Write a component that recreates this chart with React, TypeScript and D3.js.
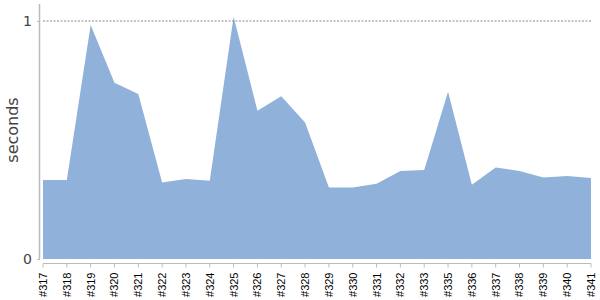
import React from "react";
import * as d3 from "d3";

const builds = ["#317","#318","#319","#320","#321","#322","#323","#324","#325","#326","#327","#328","#329","#330","#331","#332","#333","#335","#336","#337","#338","#339","#340","#341"];
const seconds = [0.332,0.332,0.983,0.741,0.693,0.321,0.336,0.329,1.018,0.623,0.684,0.574,0.300,0.300,0.316,0.370,0.374,0.703,0.312,0.384,0.370,0.342,0.349,0.340];
const yTicks = [0, 1];

export default function App() {
  const W = 600, H = 300;
  const x = d3.scalePoint<string>().domain(builds).range([43, 591]);
  const y = d3.scaleLinear().domain([0, 1]).range([259, 21]);
  const area = d3.area<number>()
    .x((_, i) => x(builds[i]) as number)
    .y0(y(0))
    .y1((d) => y(d));
  return (
    <svg width={W} height={H} style={{ position: "absolute", left: 0, top: 0 }}>
      <path d={area(seconds) || ""} fill="#8fb1da" />
      <line x1={43} x2={591} y1={y(1)} y2={y(1)} stroke="#888" strokeDasharray="2,1.5" strokeWidth={1} />
      <line x1={39.5} x2={39.5} y1={4} y2={259} stroke="#bbb" strokeWidth={1.5} />
      {yTicks.map((t) => (
        <g key={t}>
          <line x1={37} x2={40} y1={y(t) + 0.5} y2={y(t) + 0.5} stroke="#bbb" />
          <text x={32} y={y(t)} dy="0.36em" textAnchor="end" fontFamily="DejaVu Sans" fontSize={14} fill="#444">{t}</text>
        </g>
      ))}
      <line x1={43} x2={591} y1={263.5} y2={263.5} stroke="#bbb" />
      {builds.map((b) => (
        <g key={b} transform={`translate(${x(b)},263.5)`}>
          <line y1={0} y2={4} stroke="#bbb" />
          <text transform="rotate(-90)" x={-9} y={0} dy="0.36em" textAnchor="end" fontFamily="Liberation Sans" fontSize={11} fill="#000">{b}</text>
        </g>
      ))}
      <text transform={`translate(18,130) rotate(-90)`} textAnchor="middle" fontFamily="DejaVu Sans" fontSize={16} fill="#444">seconds</text>
    </svg>
  );
}
